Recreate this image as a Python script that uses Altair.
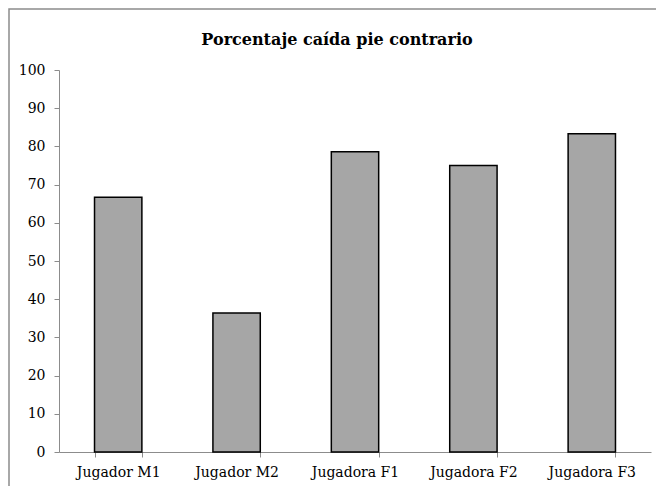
import altair as alt
import pandas as pd

jugadores = ["Jugador M1", "Jugador M2", "Jugadora F1", "Jugadora F2", "Jugadora F3"]
porcentajes = [66.7, 36.4, 78.6, 75.0, 83.3]
titulo = "Porcentaje caída pie contrario"

df = pd.DataFrame({"jugador": jugadores, "pct": porcentajes})
FONT = "DejaVu Serif"

frame = alt.Chart(pd.DataFrame({"a": [0]})).mark_rect(
    fill="white", fillOpacity=0, stroke="#8c8c8c", strokeWidth=1.5
).encode(x=alt.value(-50), x2=alt.value(700), y=alt.value(-61), y2=alt.value(520))

bars = alt.Chart(df).mark_bar(
    fill="#a6a6a6", stroke="black", strokeWidth=1.5
).encode(
    x=alt.X("jugador:N", sort=jugadores, title=None,
            scale=alt.Scale(paddingInner=0.6, paddingOuter=0.3),
            axis=alt.Axis(labelAngle=0, tickBand="extent", tickSize=5,
                          labelPadding=8, labelFontSize=14, labelFont=FONT,
                          labelColor="black", domainColor="#8c8c8c",
                          tickColor="#8c8c8c", grid=False)),
    y=alt.Y("pct:Q", title=None,
            scale=alt.Scale(domain=[0, 100], nice=False),
            axis=alt.Axis(values=list(range(0, 101, 10)), tickSize=5,
                          labelPadding=9, labelFontSize=14, labelFont=FONT,
                          labelColor="black", domainColor="#8c8c8c",
                          tickColor="#8c8c8c", grid=False)),
)

title = alt.Chart(pd.DataFrame({"t": [titulo]})).mark_text(
    font=FONT, fontSize=16, fontWeight="bold", color="black", baseline="middle"
).encode(text="t:N", x=alt.value(278), y=alt.value(-30))

chart = alt.layer(frame, bars, title).properties(
    width=592, height=382,
    autosize=alt.AutoSizeParams(type="none"),
    padding={"left": 51, "top": 62, "right": 5, "bottom": 34},
).configure_view(stroke=None)

chart.save("out.html", embed_options={"renderer": "svg", "actions": False})
